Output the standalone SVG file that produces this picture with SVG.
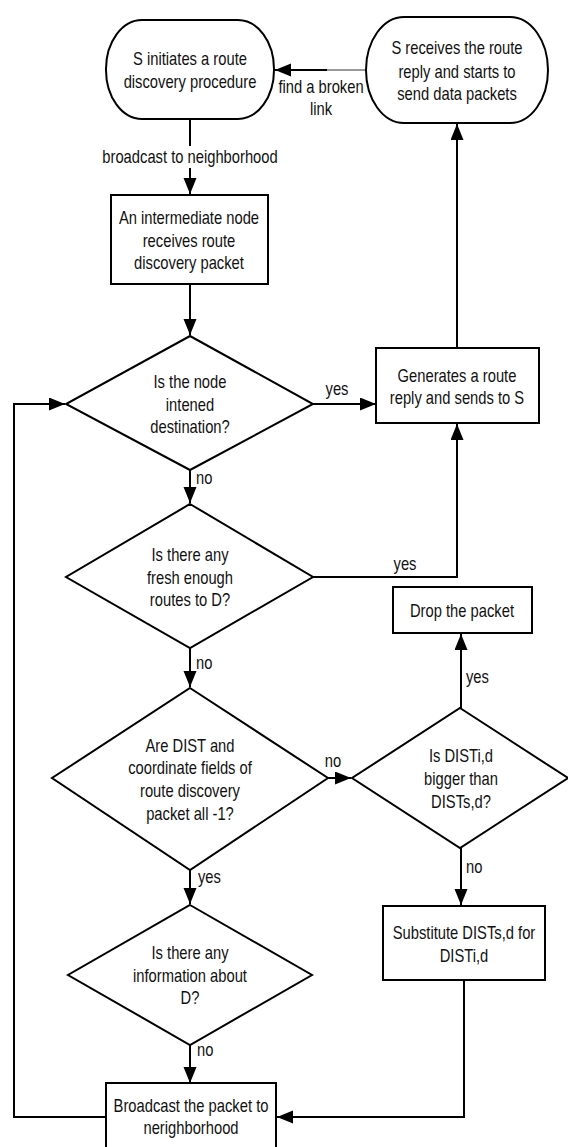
<svg xmlns="http://www.w3.org/2000/svg" width="568" height="1147" viewBox="0 0 568 1147">
<style>
.shape{fill:#fff;stroke:#000;stroke-width:2}
.conn{fill:none;stroke:#000;stroke-width:2}
text{font-family:"Liberation Sans",Arial,sans-serif;font-size:18px;fill:#111}
.c{text-anchor:middle}
</style>
<defs>
<marker id="ah" markerUnits="userSpaceOnUse" markerWidth="17" markerHeight="14" refX="16" refY="6.5" orient="auto">
<path d="M0,0 L16,6.5 L0,13 z" fill="#000"/>
</marker>
</defs>
<rect width="568" height="1147" fill="#fff"/>
<g id="connectors">
<line class="conn" x1="327" y1="70" x2="275" y2="70" marker-end="url(#ah)"/>
<line x1="367" y1="70" x2="327" y2="70" stroke="#777" stroke-width="1.5"/>
<line class="conn" x1="190" y1="119" x2="190" y2="194" marker-end="url(#ah)"/>
<line class="conn" x1="190" y1="284" x2="190" y2="335" marker-end="url(#ah)"/>
<line class="conn" x1="313" y1="404" x2="376" y2="404" marker-end="url(#ah)"/>
<line class="conn" x1="457" y1="348" x2="457" y2="124" marker-end="url(#ah)"/>
<line class="conn" x1="190" y1="470" x2="190" y2="503" marker-end="url(#ah)"/>
<path class="conn" d="M313,577 H457 V424" marker-end="url(#ah)"/>
<line class="conn" x1="190" y1="648" x2="190" y2="687" marker-end="url(#ah)"/>
<line class="conn" x1="328" y1="778" x2="351" y2="778" marker-end="url(#ah)"/>
<line class="conn" x1="461" y1="708" x2="461" y2="634" marker-end="url(#ah)"/>
<line class="conn" x1="461" y1="848" x2="461" y2="905" marker-end="url(#ah)"/>
<line class="conn" x1="190" y1="870" x2="190" y2="904" marker-end="url(#ah)"/>
<line class="conn" x1="190" y1="1045" x2="190" y2="1083" marker-end="url(#ah)"/>
<path class="conn" d="M464,980 V1117 H277" marker-end="url(#ah)"/>
<path class="conn" d="M106,1117 H14 V404 H65" marker-end="url(#ah)"/>
<rect x="100" y="146" width="180" height="22" fill="#fff"/>
<g transform="scale(0.82 1)">
<text class="c" x="231.71" y="163">broadcast to neighborhood</text>
<text class="c" x="391.46" y="93">find a broken</text>
<text class="c" x="391.46" y="115">link</text>
<text class="c" x="410.98" y="395">yes</text>
<text x="239.02" y="484">no</text>
<text class="c" x="493.90" y="570">yes</text>
<text x="239.02" y="669">no</text>
<text class="c" x="406.10" y="767">no</text>
<text x="568.29" y="683">yes</text>
<text x="568.29" y="873">no</text>
<text x="241.46" y="883">yes</text>
<text x="240.24" y="1056">no</text>
</g>
</g>
<g id="n-start">
<rect class="shape" x="106" y="20" width="168" height="99" rx="36" ry="49"/>
<g transform="scale(0.82 1)">
<text class="c" x="231.71" y="65">S initiates a route</text>
<text class="c" x="231.71" y="88">discovery procedure</text>
</g>
</g>
<g id="n-receive">
<rect class="shape" x="366" y="17" width="182" height="106" rx="38" ry="53"/>
<g transform="scale(0.82 1)">
<text class="c" x="557.32" y="54">S receives the route</text>
<text class="c" x="557.32" y="78">reply and starts to</text>
<text class="c" x="557.32" y="100">send data packets</text>
</g>
</g>
<g id="n-intermediate">
<rect class="shape" x="111" y="195" width="157" height="89"/>
<g transform="scale(0.82 1)">
<text class="c" x="230.49" y="224">An intermediate node</text>
<text class="c" x="230.49" y="247">receives route</text>
<text class="c" x="230.49" y="269">discovery packet</text>
</g>
</g>
<g id="n-dest">
<polygon class="shape" points="190,336 313,404 190,470 66,404"/>
<g transform="scale(0.82 1)">
<text class="c" x="231.71" y="388">Is the node</text>
<text class="c" x="231.71" y="411">intened</text>
<text class="c" x="231.71" y="433">destination?</text>
</g>
</g>
<g id="n-reply">
<rect class="shape" x="376" y="348" width="163" height="75"/>
<g transform="scale(0.82 1)">
<text class="c" x="557.32" y="382">Generates a route</text>
<text class="c" x="557.32" y="404">reply and sends to S</text>
</g>
</g>
<g id="n-fresh">
<polygon class="shape" points="190,504 313,577 190,648 66,577"/>
<g transform="scale(0.82 1)">
<text class="c" x="231.71" y="561">Is there any</text>
<text class="c" x="231.71" y="584">fresh enough</text>
<text class="c" x="231.71" y="606">routes to D?</text>
</g>
</g>
<g id="n-drop">
<rect class="shape" x="393" y="587" width="139" height="46"/>
<g transform="scale(0.82 1)">
<text class="c" x="563.41" y="617">Drop the packet</text>
</g>
</g>
<g id="n-dist">
<polygon class="shape" points="190,688 328,778 190,870 52,778"/>
<g transform="scale(0.82 1)">
<text class="c" x="231.71" y="752">Are DIST and</text>
<text class="c" x="231.71" y="774">coordinate fields of</text>
<text class="c" x="231.71" y="797">route discovery</text>
<text class="c" x="231.71" y="820">packet all -1?</text>
</g>
</g>
<g id="n-bigger">
<polygon class="shape" points="460,708 568,778 460,848 352,778"/>
<g transform="scale(0.82 1)">
<text class="c" x="562.20" y="762">Is DISTi,d</text>
<text class="c" x="562.20" y="785">bigger than</text>
<text class="c" x="562.20" y="808">DISTs,d?</text>
</g>
</g>
<g id="n-substitute">
<rect class="shape" x="383" y="906" width="162" height="74"/>
<g transform="scale(0.82 1)">
<text class="c" x="565.85" y="939">Substitute DISTs,d for</text>
<text class="c" x="565.85" y="962">DISTi,d</text>
</g>
</g>
<g id="n-info">
<polygon class="shape" points="190,905 312,975 190,1045 68,975"/>
<g transform="scale(0.82 1)">
<text class="c" x="231.71" y="959">Is there any</text>
<text class="c" x="231.71" y="982">information about</text>
<text class="c" x="231.71" y="1004">D?</text>
</g>
</g>
<g id="n-broadcast">
<rect class="shape" x="106" y="1083" width="170" height="80"/>
<g transform="scale(0.82 1)">
<text class="c" x="232.93" y="1112">Broadcast the packet to</text>
<text class="c" x="232.93" y="1134">nerighborhood</text>
</g>
</g>
</svg>
